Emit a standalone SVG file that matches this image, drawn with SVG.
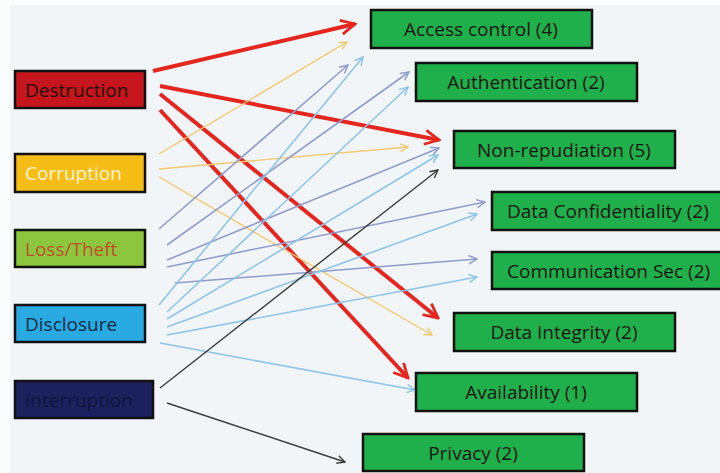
<svg xmlns="http://www.w3.org/2000/svg" width="720" height="473" viewBox="0 0 720 473">
  <style>
    .box { stroke: #111; stroke-width: 2.5; }
    .lbl { font-family: "Open Sans", Lato, "Liberation Sans", sans-serif; font-size: 19px; }
    .src { text-anchor: start; }
    .dst { text-anchor: middle; fill: #151515; }
    .tgt { fill: #20B04B; }
    .ln { fill: none; }
    .red { stroke: #E5261F; stroke-width: 4; marker-end: url(#hRed); }
    .yel { stroke: #F3C76E; stroke-width: 1.4; marker-end: url(#hYel); }
    .pur { stroke: #8E9CCB; stroke-width: 1.6; marker-end: url(#hPur); }
    .blu { stroke: #8DC4EA; stroke-width: 1.6; marker-end: url(#hBlu); }
    .blk { stroke: #3A3A3A; stroke-width: 1.4; marker-end: url(#hBlk); }
  </style>
  <defs>
    <marker id="hRed" viewBox="0 0 10 10" refX="9" refY="5" markerWidth="4.4" markerHeight="4.4" orient="auto" markerUnits="strokeWidth">
      <path d="M1,1 L9,5 L1,9" fill="none" stroke="#E5261F" stroke-width="1.6" stroke-linejoin="miter"/>
    </marker>
    <marker id="hYel" viewBox="0 0 10 10" refX="9" refY="5" markerWidth="7" markerHeight="7" orient="auto" markerUnits="strokeWidth">
      <path d="M1,1 L9,5 L1,9" fill="none" stroke="#F3C76E" stroke-width="1.4"/>
    </marker>
    <marker id="hPur" viewBox="0 0 10 10" refX="9" refY="5" markerWidth="6.5" markerHeight="6.5" orient="auto" markerUnits="strokeWidth">
      <path d="M1,1 L9,5 L1,9" fill="none" stroke="#8E9CCB" stroke-width="1.4"/>
    </marker>
    <marker id="hBlu" viewBox="0 0 10 10" refX="9" refY="5" markerWidth="6.5" markerHeight="6.5" orient="auto" markerUnits="strokeWidth">
      <path d="M1,1 L9,5 L1,9" fill="none" stroke="#8DC4EA" stroke-width="1.4"/>
    </marker>
    <marker id="hBlk" viewBox="0 0 10 10" refX="9" refY="5" markerWidth="7" markerHeight="7" orient="auto" markerUnits="strokeWidth">
      <path d="M1,1 L9,5 L1,9" fill="none" stroke="#3A3A3A" stroke-width="1.4"/>
    </marker>
  </defs>

  <!-- page background -->
  <rect x="0" y="0" width="720" height="473" fill="#FBFCFC"/>
  <rect x="10" y="5" width="710" height="468" fill="#F2F5F7"/>

  <!-- connectors -->
  <g id="connectors">
    <!-- Destruction -->
    <line class="ln red" x1="153" y1="71" x2="355" y2="24"/>
    <line class="ln red" x1="160" y1="86" x2="439" y2="140"/>
    <line class="ln red" x1="160" y1="94" x2="438" y2="318"/>
    <line class="ln red" x1="160" y1="110" x2="408" y2="378"/>
    <!-- Corruption -->
    <line class="ln yel" x1="159" y1="154" x2="347" y2="42"/>
    <line class="ln yel" x1="159" y1="169" x2="408" y2="147"/>
    <line class="ln yel" x1="159" y1="177" x2="432" y2="335"/>
    <!-- Loss/Theft -->
    <line class="ln pur" x1="159" y1="229" x2="348" y2="65"/>
    <line class="ln pur" x1="167" y1="245" x2="409" y2="72"/>
    <line class="ln pur" x1="167" y1="260" x2="439" y2="148"/>
    <line class="ln pur" x1="167" y1="267" x2="485" y2="202"/>
    <line class="ln pur" x1="175" y1="283" x2="477" y2="259"/>
    <!-- Disclosure -->
    <line class="ln blu" x1="159" y1="305" x2="363" y2="57"/>
    <line class="ln blu" x1="167" y1="312" x2="408" y2="87"/>
    <line class="ln blu" x1="167" y1="319" x2="438" y2="155"/>
    <line class="ln blu" x1="167" y1="327" x2="477" y2="214"/>
    <line class="ln blu" x1="167" y1="335" x2="477" y2="277"/>
    <line class="ln blu" x1="160" y1="343" x2="415" y2="390"/>
    <!-- Interruption -->
    <line class="ln blk" x1="160" y1="388" x2="438" y2="170"/>
    <line class="ln blk" x1="167" y1="403" x2="345" y2="462"/>
  </g>

  <!-- threat nodes -->
  <g id="destruction">
    <rect class="box" x="15" y="71" width="130" height="37" fill="#C4161C"/>
    <text class="lbl src" x="25" y="97" fill="#2B0A0A">Destruction</text>
  </g>
  <g id="corruption">
    <rect class="box" x="15" y="154" width="130" height="38" fill="#F6BD16"/>
    <text class="lbl src" x="25" y="180" fill="#FFF4D6">Corruption</text>
  </g>
  <g id="loss-theft">
    <rect class="box" x="15" y="230" width="130" height="37" fill="#8CC63F"/>
    <text class="lbl src" x="25" y="256" fill="#C0502A">Loss/Theft</text>
  </g>
  <g id="disclosure">
    <rect class="box" x="15" y="305" width="130" height="37" fill="#2AAAE2"/>
    <text class="lbl src" x="25" y="331" fill="#0E2A45">Disclosure</text>
  </g>
  <g id="interruption">
    <rect class="box" x="15" y="381" width="138" height="37" fill="#1C215E"/>
    <text class="lbl src" x="25" y="407" fill="#10143A">Interruption</text>
  </g>

  <!-- security service nodes -->
  <g id="access-control">
    <rect class="box tgt" x="371" y="10" width="221" height="38"/>
    <text class="lbl dst" x="481" y="36">Access control (4)</text>
  </g>
  <g id="authentication">
    <rect class="box tgt" x="416" y="63" width="221" height="38"/>
    <text class="lbl dst" x="526" y="89">Authentication (2)</text>
  </g>
  <g id="non-repudiation">
    <rect class="box tgt" x="454" y="131" width="221" height="37"/>
    <text class="lbl dst" x="564" y="157">Non-repudiation (5)</text>
  </g>
  <g id="data-confidentiality">
    <rect class="box tgt" x="492" y="192" width="240" height="38"/>
    <text class="lbl src" x="507" y="218" fill="#151515">Data Confidentiality (2)</text>
  </g>
  <g id="communication-sec">
    <rect class="box tgt" x="492" y="252" width="240" height="37"/>
    <text class="lbl src" x="507" y="278" fill="#151515">Communication Sec (2)</text>
  </g>
  <g id="data-integrity">
    <rect class="box tgt" x="454" y="313" width="221" height="38"/>
    <text class="lbl dst" x="564" y="339">Data Integrity (2)</text>
  </g>
  <g id="availability">
    <rect class="box tgt" x="416" y="373" width="221" height="38"/>
    <text class="lbl dst" x="526" y="399">Availability (1)</text>
  </g>
  <g id="privacy">
    <rect class="box tgt" x="363" y="434" width="221" height="37"/>
    <text class="lbl dst" x="473" y="460">Privacy (2)</text>
  </g>
</svg>
